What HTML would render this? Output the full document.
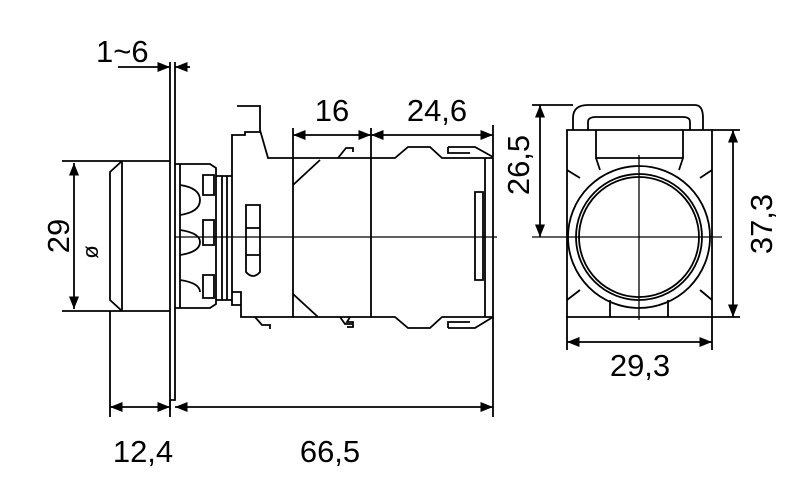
<!DOCTYPE html>
<html><head><meta charset="utf-8"><style>html,body{margin:0;padding:0;background:#fff}svg{display:block}</style></head><body>
<svg width="800" height="499" viewBox="0 0 800 499" xmlns="http://www.w3.org/2000/svg" font-family="Liberation Sans, sans-serif" fill="none" stroke="#000" stroke-width="1.8">
<defs><marker id="a" viewBox="0 0 10 10" refX="10" refY="5" markerWidth="7" markerHeight="7" orient="auto-start-reverse"><path d="M0,1 L10,5 L0,9 z" fill="#000" stroke="none"/></marker></defs>
<path d="M170,62 V410 M175,62 V400 H170"/>
<line x1="118" y1="67" x2="170" y2="67" marker-end="url(#a)"/>
<line x1="190" y1="67" x2="175" y2="67" marker-end="url(#a)"/>
<path d="M62,161 H170 M62,311 H170 M122,161 V311 M122,161 L110,172 V300 L122,311 M110,311 V417"/>
<line x1="74" y1="163" x2="74" y2="309" marker-start="url(#a)" marker-end="url(#a)"/>
<path d="M175,164 H210 L216,168 V304 L210,308 H175 M180,164 V308 M216,176 H232 M216,300 H232 M222,176 V300 M227,176 V300"/>
<path d="M180,185 Q200,188 200,200 Q200,212 180,215 M180,230 Q200,233 200,242 Q200,252 180,255 M180,280 Q200,283 200,292 M203,175 H214 V195 H203 Z M203,220 H214 V245 H203 Z M203,275 H214 V298 H203 Z"/>
<path d="M237,106 H260 V132 H245 V135 H232 V305 H241 V317 H293 V158 H268 L260,130 M232,292 H241 V305"/>
<path d="M246,205 H260 V272 Q253,280 246,272 Z M246,228 H260 M246,255 H260"/>
<path d="M293,158 H371 V317 H293 M293,185 L320,160 M293,294 L318,317 H298 M338,158 L346,148 H353 V152 M350,317 L347,322 H353 V327 H347"/>
<path d="M255,317 L262,325 H270 V329 M340,317 L345,324 H352"/>
<path d="M371,158 H395 L408,147 H430 L442,158 H493 V317 H442 L430,328 H408 L395,317 H371"/>
<path d="M448,147 H475 L493,157 M448,147 V153 H470 M448,328 H475 L493,317 M448,328 V322 H470 M475,192 H483 V280 H475 Z M485,158 V317"/>
<line x1="175" y1="237" x2="497" y2="237" stroke-width="1.3"/>
<path d="M293,128 V158 M371,128 V158 M493,125 V157"/>
<line x1="293" y1="135" x2="371" y2="135" marker-start="url(#a)" marker-end="url(#a)"/>
<line x1="371" y1="135" x2="493" y2="135" marker-start="url(#a)" marker-end="url(#a)"/>
<path d="M493,317 V417 M170,400 V417"/>
<line x1="110" y1="407" x2="170" y2="407" marker-start="url(#a)" marker-end="url(#a)"/>
<line x1="175" y1="407" x2="493" y2="407" marker-start="url(#a)" marker-end="url(#a)"/>
<path d="M567,130 H712 V317 H567 Z M573,130 V118 Q573,105 588,105 H695 Q703,105 703,118 V130"/>
<path d="M588,130 V122 Q588,117 596,117 H683 Q690,117 690,122 V130 M596,130 V158 H683 V130 M596,158 L600,170 M683,158 L679,170"/>
<path d="M567,170 L580,178 M712,170 L700,178 M567,300 L580,290 M712,300 L700,290 M610,317 V300 M668,317 V300"/>
<circle cx="639" cy="237" r="71"/><circle cx="639" cy="237" r="63"/><circle cx="639" cy="237" r="60"/>
<line x1="532" y1="237" x2="722" y2="237" stroke-width="1.3"/>
<line x1="639" y1="155" x2="639" y2="320" stroke-width="1.3"/>
<path d="M532,105 H573 M712,130 H740 M712,317 H740 M567,317 V350 M712,317 V350"/>
<line x1="540" y1="105" x2="540" y2="237" marker-start="url(#a)" marker-end="url(#a)"/>
<line x1="733" y1="130" x2="733" y2="317" marker-start="url(#a)" marker-end="url(#a)"/>
<line x1="567" y1="342" x2="712" y2="342" marker-start="url(#a)" marker-end="url(#a)"/>
<g fill="#000" stroke="none" font-size="31">
<text x="96" y="62">1~6</text>
<text x="332" y="121" text-anchor="middle">16</text>
<text x="437" y="121" text-anchor="middle">24,6</text>
<text x="143" y="462" text-anchor="middle">12,4</text>
<text x="330" y="462" text-anchor="middle">66,5</text>
<text x="640" y="376" text-anchor="middle">29,3</text>
<text transform="translate(69,236) rotate(-90)" text-anchor="middle">29</text>
<text transform="translate(529,165) rotate(-90)" text-anchor="middle">26,5</text>
<text transform="translate(772,224) rotate(-90)" text-anchor="middle">37,3</text>
<text transform="translate(98,252) rotate(-90)" font-size="22" text-anchor="middle">ø</text>
</g>
</svg>
</body></html>
